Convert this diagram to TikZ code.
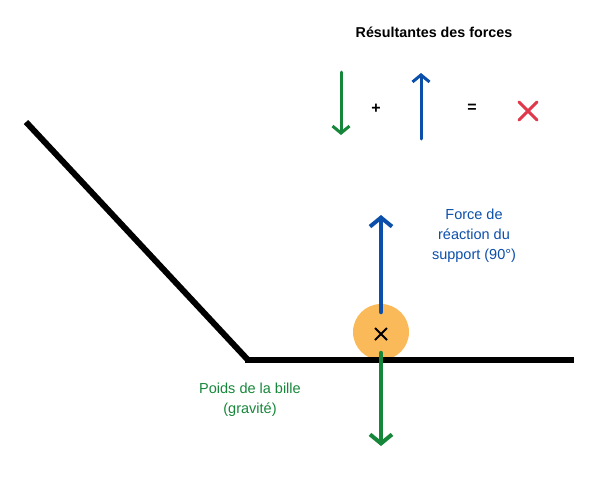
\documentclass[tikz,border=0pt]{standalone}
\usepackage{fontspec}
\setmainfont{Liberation Sans}
\usetikzlibrary{arrows.meta}
\definecolor{ballorange}{HTML}{FBBA5A}
\definecolor{forceblue}{HTML}{0B4FAB}
\definecolor{forcegreen}{HTML}{16873A}
\definecolor{crossred}{HTML}{E0394B}
\tikzset{
  force/.style={line width=4.5pt, line cap=round,
    -{Straight Barb[length=9pt,width=22pt,line width=4pt]}},
  smallforce/.style={line width=3pt, line cap=round,
    -{Straight Barb[length=7pt,width=17pt,line width=3pt]}},
  ground/.style={line width=6pt},
  label/.style={font=\fontsize{14.5}{20}\selectfont, align=center}
}
\begin{document}
\begin{tikzpicture}[x=1pt,y=-1pt]
  \useasboundingbox (0,0) rectangle (600,480);
  % the ball and its support
  \fill[ballorange] (381,332) circle (28);
  \coordinate (ball) at (381,334);
  \draw[line width=1.8pt] ([shift={(-6,-6)}]ball) -- ([shift={(6,6)}]ball)
    ([shift={(6,-6)}]ball) -- ([shift={(-6,6)}]ball);
  \coordinate (top) at (26,122);
  \coordinate (corner) at (248,360);
  \coordinate (end) at (574,360);
  \draw[ground] (top) -- (corner);
  \draw[ground] (245,360) -- (end);
  % forces on the ball
  \coordinate (blue0) at (381,312);
  \coordinate (blue1) at (381,215);
  \coordinate (green0) at (381,353);
  \coordinate (green1) at (381,446);
  \draw[force, forceblue] (blue0) -- (blue1);
  \draw[force, forcegreen] (green0) -- (green1);
  \node[label, text=forceblue] (reaction) at (474,236)
    {Force de\\réaction du\\support (90°)};
  \node[label, text=forcegreen] (poids) at (250,400)
    {Poids de la bille\\(gravité)};
  % sum of the forces
  \node[font=\bfseries\fontsize{14.3}{14}\selectfont] (title) at (434,32)
    {Résultantes des forces};
  \coordinate (g0) at (341,72);
  \coordinate (g1) at (341,135);
  \coordinate (b0) at (421,139);
  \coordinate (b1) at (421,73);
  \draw[smallforce, forcegreen] (g0) -- (g1);
  \draw[smallforce, forceblue] (b0) -- (b1);
  \node[font=\bfseries\fontsize{16}{16}\selectfont] (plus) at (376,109) {+};
  \node[font=\bfseries\fontsize{16}{16}\selectfont] (equal) at (472,108) {=};
  \coordinate (cross) at (528,111);
  \draw[crossred, line width=3pt, line cap=round]
    ([shift={(-9,-9)}]cross) -- ([shift={(9,9)}]cross)
    ([shift={(9,-9)}]cross) -- ([shift={(-9,9)}]cross);
\end{tikzpicture}
\end{document}
